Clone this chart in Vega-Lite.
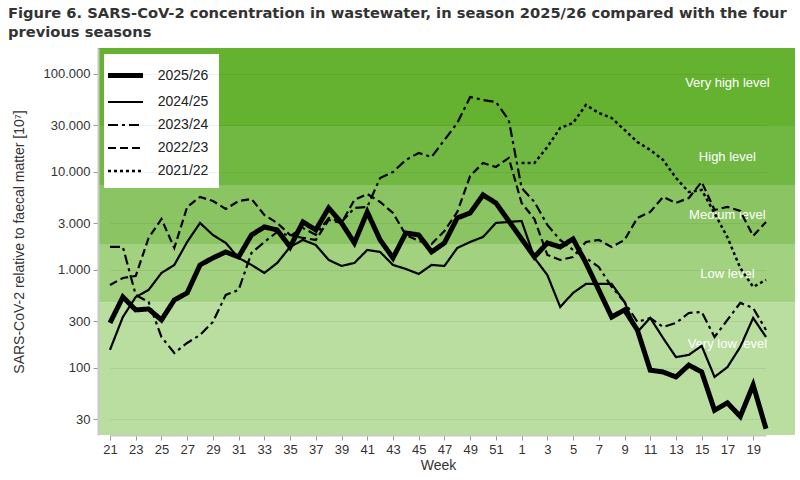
{
  "$schema": "https://vega.github.io/schema/vega-lite/v6.json",
  "width": 697,
  "height": 387,
  "autosize": {"type": "none"},
  "padding": {"left": 98, "top": 48, "right": 5, "bottom": 45},
  "background": "white",
  "title": {
    "text": ["Figure 6. SARS-CoV-2 concentration in wastewater, in season 2025/26 compared with the four", "previous seasons"],
    "anchor": "start",
    "frame": "group",
    "dx": -90,
    "offset": 8,
    "fontSize": 14.7,
    "fontWeight": "bold",
    "font": "DejaVu Sans",
    "color": "#333333",
    "lineHeight": 19
  },
  "config": {
    "view": {"stroke": null},
    "font": "Liberation Sans",
    "axis": {
      "labelFont": "Liberation Sans",
      "labelFontSize": 13,
      "labelColor": "#333333",
      "titleFont": "Liberation Sans",
      "titleFontSize": 14,
      "titleFontWeight": "normal",
      "titleColor": "#333333",
      "tickColor": "#999999",
      "domainColor": "#c8c8c8",
      "domainWidth": 2
    },
    "legend": {
      "orient": "top-left",
      "offset": 6,
      "fillColor": "white",
      "padding": 10,
      "symbolType": "M-2,0L2,0",
      "symbolSize": 306.25,
      "symbolStrokeColor": "black",
      "labelFont": "Liberation Sans",
      "labelFontSize": 14,
      "labelColor": "#222222",
      "labelOffset": 20.75,
      "rowPadding": 6
    }
  },
  "datasets": {
    "bands": [
      {"level": "Very low", "lo": 20.7, "hi": 468},
      {"level": "Low", "lo": 468, "hi": 1840},
      {"level": "Medium", "lo": 1840, "hi": 7360},
      {"level": "High", "lo": 7360, "hi": 29440},
      {"level": "Very high", "lo": 29440, "hi": 184000}
    ],
    "labels": [
      {"label": "Very high level", "value": 80900},
      {"label": "High level", "value": 14230},
      {"label": "Medium level", "value": 3640},
      {"label": "Low level", "value": 910},
      {"label": "Very low level", "value": 176}
    ],
    "series": [
      {"season": "2025/26", "week": 21, "value": 288},
      {"season": "2025/26", "week": 22, "value": 530},
      {"season": "2025/26", "week": 23, "value": 391},
      {"season": "2025/26", "week": 24, "value": 400},
      {"season": "2025/26", "week": 25, "value": 309},
      {"season": "2025/26", "week": 26, "value": 494},
      {"season": "2025/26", "week": 27, "value": 583},
      {"season": "2025/26", "week": 28, "value": 1125},
      {"season": "2025/26", "week": 29, "value": 1326},
      {"season": "2025/26", "week": 30, "value": 1527},
      {"season": "2025/26", "week": 31, "value": 1357},
      {"season": "2025/26", "week": 32, "value": 2276},
      {"season": "2025/26", "week": 33, "value": 2747},
      {"season": "2025/26", "week": 34, "value": 2560},
      {"season": "2025/26", "week": 35, "value": 1717},
      {"season": "2025/26", "week": 36, "value": 3090},
      {"season": "2025/26", "week": 37, "value": 2560},
      {"season": "2025/26", "week": 38, "value": 4294},
      {"season": "2025/26", "week": 39, "value": 3018},
      {"season": "2025/26", "week": 40, "value": 1886},
      {"season": "2025/26", "week": 41, "value": 3906},
      {"season": "2025/26", "week": 42, "value": 2024},
      {"season": "2025/26", "week": 43, "value": 1326},
      {"season": "2025/26", "week": 44, "value": 2386},
      {"season": "2025/26", "week": 45, "value": 2276},
      {"season": "2025/26", "week": 46, "value": 1527},
      {"season": "2025/26", "week": 47, "value": 1886},
      {"season": "2025/26", "week": 48, "value": 3393},
      {"season": "2025/26", "week": 49, "value": 3815},
      {"season": "2025/26", "week": 50, "value": 5826},
      {"season": "2025/26", "week": 51, "value": 4828},
      {"season": "2025/26", "week": 52, "value": 3162},
      {"season": "2025/26", "week": 1, "value": 2072},
      {"season": "2025/26", "week": 2, "value": 1357},
      {"season": "2025/26", "week": 3, "value": 1886},
      {"season": "2025/26", "week": 4, "value": 1717},
      {"season": "2025/26", "week": 5, "value": 2072},
      {"season": "2025/26", "week": 6, "value": 1179},
      {"season": "2025/26", "week": 7, "value": 625},
      {"season": "2025/26", "week": 8, "value": 331},
      {"season": "2025/26", "week": 9, "value": 391},
      {"season": "2025/26", "week": 10, "value": 244},
      {"season": "2025/26", "week": 11, "value": 95},
      {"season": "2025/26", "week": 12, "value": 91},
      {"season": "2025/26", "week": 13, "value": 81},
      {"season": "2025/26", "week": 14, "value": 107},
      {"season": "2025/26", "week": 15, "value": 91},
      {"season": "2025/26", "week": 16, "value": 37},
      {"season": "2025/26", "week": 17, "value": 44},
      {"season": "2025/26", "week": 18, "value": 32},
      {"season": "2025/26", "week": 19, "value": 67},
      {"season": "2025/26", "week": 20, "value": 24},

      {"season": "2024/25", "week": 21, "value": 153},
      {"season": "2024/25", "week": 22, "value": 331},
      {"season": "2024/25", "week": 23, "value": 530},
      {"season": "2024/25", "week": 24, "value": 625},
      {"season": "2024/25", "week": 25, "value": 932},
      {"season": "2024/25", "week": 26, "value": 1125},
      {"season": "2024/25", "week": 27, "value": 1931},
      {"season": "2024/25", "week": 28, "value": 3018},
      {"season": "2024/25", "week": 29, "value": 2276},
      {"season": "2024/25", "week": 30, "value": 1886},
      {"season": "2024/25", "week": 31, "value": 1326},
      {"season": "2024/25", "week": 32, "value": 1125},
      {"season": "2024/25", "week": 33, "value": 932},
      {"season": "2024/25", "week": 34, "value": 1179},
      {"season": "2024/25", "week": 35, "value": 1717},
      {"season": "2024/25", "week": 36, "value": 2024},
      {"season": "2024/25", "week": 37, "value": 1799},
      {"season": "2024/25", "week": 38, "value": 1265},
      {"season": "2024/25", "week": 39, "value": 1099},
      {"season": "2024/25", "week": 40, "value": 1179},
      {"season": "2024/25", "week": 41, "value": 1600},
      {"season": "2024/25", "week": 42, "value": 1527},
      {"season": "2024/25", "week": 43, "value": 1125},
      {"season": "2024/25", "week": 44, "value": 1024},
      {"season": "2024/25", "week": 45, "value": 910},
      {"season": "2024/25", "week": 46, "value": 1125},
      {"season": "2024/25", "week": 47, "value": 1099},
      {"season": "2024/25", "week": 48, "value": 1677},
      {"season": "2024/25", "week": 49, "value": 1931},
      {"season": "2024/25", "week": 50, "value": 2171},
      {"season": "2024/25", "week": 51, "value": 3018},
      {"season": "2024/25", "week": 52, "value": 3090},
      {"season": "2024/25", "week": 1, "value": 3162},
      {"season": "2024/25", "week": 2, "value": 1326},
      {"season": "2024/25", "week": 3, "value": 889},
      {"season": "2024/25", "week": 4, "value": 419},
      {"season": "2024/25", "week": 5, "value": 583},
      {"season": "2024/25", "week": 6, "value": 720},
      {"season": "2024/25", "week": 7, "value": 720},
      {"season": "2024/25", "week": 8, "value": 720},
      {"season": "2024/25", "week": 9, "value": 472},
      {"season": "2024/25", "week": 10, "value": 233},
      {"season": "2024/25", "week": 11, "value": 324},
      {"season": "2024/25", "week": 12, "value": 202},
      {"season": "2024/25", "week": 13, "value": 129},
      {"season": "2024/25", "week": 14, "value": 136},
      {"season": "2024/25", "week": 15, "value": 168},
      {"season": "2024/25", "week": 16, "value": 81},
      {"season": "2024/25", "week": 17, "value": 102},
      {"season": "2024/25", "week": 18, "value": 164},
      {"season": "2024/25", "week": 19, "value": 324},
      {"season": "2024/25", "week": 20, "value": 207},

      {"season": "2023/24", "week": 21, "value": 1717},
      {"season": "2023/24", "week": 22, "value": 1717},
      {"season": "2023/24", "week": 23, "value": 556},
      {"season": "2023/24", "week": 24, "value": 472},
      {"season": "2023/24", "week": 25, "value": 207},
      {"season": "2023/24", "week": 26, "value": 142},
      {"season": "2023/24", "week": 27, "value": 180},
      {"season": "2023/24", "week": 28, "value": 217},
      {"season": "2023/24", "week": 29, "value": 295},
      {"season": "2023/24", "week": 30, "value": 556},
      {"season": "2023/24", "week": 31, "value": 625},
      {"season": "2023/24", "week": 32, "value": 1491},
      {"season": "2023/24", "week": 33, "value": 1931},
      {"season": "2023/24", "week": 34, "value": 2442},
      {"season": "2023/24", "week": 35, "value": 2223},
      {"season": "2023/24", "week": 36, "value": 2683},
      {"season": "2023/24", "week": 37, "value": 2276},
      {"season": "2023/24", "week": 38, "value": 3393},
      {"season": "2023/24", "week": 39, "value": 3090},
      {"season": "2023/24", "week": 40, "value": 4294},
      {"season": "2023/24", "week": 41, "value": 4394},
      {"season": "2023/24", "week": 42, "value": 8686},
      {"season": "2023/24", "week": 43, "value": 10000},
      {"season": "2023/24", "week": 44, "value": 13260},
      {"season": "2023/24", "week": 45, "value": 15630},
      {"season": "2023/24", "week": 46, "value": 14230},
      {"season": "2023/24", "week": 47, "value": 21210},
      {"season": "2023/24", "week": 48, "value": 31620},
      {"season": "2023/24", "week": 49, "value": 58260},
      {"season": "2023/24", "week": 50, "value": 54280},
      {"season": "2023/24", "week": 51, "value": 51800},
      {"season": "2023/24", "week": 52, "value": 33930},
      {"season": "2023/24", "week": 1, "value": 6865},
      {"season": "2023/24", "week": 2, "value": 4940},
      {"season": "2023/24", "week": 3, "value": 2879},
      {"season": "2023/24", "week": 4, "value": 2024},
      {"season": "2023/24", "week": 5, "value": 1600},
      {"season": "2023/24", "week": 6, "value": 1326},
      {"season": "2023/24", "week": 7, "value": 1073},
      {"season": "2023/24", "week": 8, "value": 671},
      {"season": "2023/24", "week": 9, "value": 472},
      {"season": "2023/24", "week": 10, "value": 295},
      {"season": "2023/24", "week": 11, "value": 324},
      {"season": "2023/24", "week": 12, "value": 262},
      {"season": "2023/24", "week": 13, "value": 288},
      {"season": "2023/24", "week": 14, "value": 364},
      {"season": "2023/24", "week": 15, "value": 373},
      {"season": "2023/24", "week": 16, "value": 207},
      {"season": "2023/24", "week": 17, "value": 309},
      {"season": "2023/24", "week": 18, "value": 461},
      {"season": "2023/24", "week": 19, "value": 409},
      {"season": "2023/24", "week": 20, "value": 244},

      {"season": "2022/23", "week": 21, "value": 703},
      {"season": "2022/23", "week": 22, "value": 829},
      {"season": "2022/23", "week": 23, "value": 869},
      {"season": "2022/23", "week": 24, "value": 2121},
      {"season": "2022/23", "week": 25, "value": 3314},
      {"season": "2022/23", "week": 26, "value": 1677},
      {"season": "2022/23", "week": 27, "value": 4394},
      {"season": "2022/23", "week": 28, "value": 5557},
      {"season": "2022/23", "week": 29, "value": 5060},
      {"season": "2022/23", "week": 30, "value": 4192},
      {"season": "2022/23", "week": 31, "value": 5060},
      {"season": "2022/23", "week": 32, "value": 5302},
      {"season": "2022/23", "week": 33, "value": 3640},
      {"season": "2022/23", "week": 34, "value": 3018},
      {"season": "2022/23", "week": 35, "value": 2276},
      {"season": "2022/23", "week": 36, "value": 2121},
      {"season": "2022/23", "week": 37, "value": 2024},
      {"season": "2022/23", "week": 38, "value": 3237},
      {"season": "2022/23", "week": 39, "value": 3018},
      {"season": "2022/23", "week": 40, "value": 5180},
      {"season": "2022/23", "week": 41, "value": 5964},
      {"season": "2022/23", "week": 42, "value": 4940},
      {"season": "2022/23", "week": 43, "value": 3815},
      {"season": "2022/23", "week": 44, "value": 2276},
      {"season": "2022/23", "week": 45, "value": 1977},
      {"season": "2022/23", "week": 46, "value": 1842},
      {"season": "2022/23", "week": 47, "value": 2500},
      {"season": "2022/23", "week": 48, "value": 3906},
      {"season": "2022/23", "week": 49, "value": 9103},
      {"season": "2022/23", "week": 50, "value": 12350},
      {"season": "2022/23", "week": 51, "value": 11250},
      {"season": "2022/23", "week": 52, "value": 13900},
      {"season": "2022/23", "week": 1, "value": 4828},
      {"season": "2022/23", "week": 2, "value": 3300},
      {"season": "2022/23", "week": 3, "value": 1423},
      {"season": "2022/23", "week": 4, "value": 1265},
      {"season": "2022/23", "week": 5, "value": 1357},
      {"season": "2022/23", "week": 6, "value": 1931},
      {"season": "2022/23", "week": 7, "value": 2024},
      {"season": "2022/23", "week": 8, "value": 1717},
      {"season": "2022/23", "week": 9, "value": 2024},
      {"season": "2022/23", "week": 10, "value": 3393},
      {"season": "2022/23", "week": 11, "value": 3906},
      {"season": "2022/23", "week": 12, "value": 5557},
      {"season": "2022/23", "week": 13, "value": 4828},
      {"season": "2022/23", "week": 14, "value": 5428},
      {"season": "2022/23", "week": 15, "value": 7907},
      {"season": "2022/23", "week": 16, "value": 4095},
      {"season": "2022/23", "week": 17, "value": 4394},
      {"season": "2022/23", "week": 18, "value": 4000},
      {"season": "2022/23", "week": 19, "value": 2223},
      {"season": "2022/23", "week": 20, "value": 3090},

      {"season": "2021/22", "week": 1, "value": 12350},
      {"season": "2021/22", "week": 2, "value": 12350},
      {"season": "2021/22", "week": 3, "value": 17990},
      {"season": "2021/22", "week": 4, "value": 28120},
      {"season": "2021/22", "week": 5, "value": 31620},
      {"season": "2021/22", "week": 6, "value": 48280},
      {"season": "2021/22", "week": 7, "value": 39990},
      {"season": "2021/22", "week": 8, "value": 35560},
      {"season": "2021/22", "week": 9, "value": 26830},
      {"season": "2021/22", "week": 10, "value": 20240},
      {"season": "2021/22", "week": 11, "value": 16760},
      {"season": "2021/22", "week": 12, "value": 13260},
      {"season": "2021/22", "week": 13, "value": 8686},
      {"season": "2021/22", "week": 14, "value": 6250},
      {"season": "2021/22", "week": 15, "value": 6550},
      {"season": "2021/22", "week": 16, "value": 3800},
      {"season": "2021/22", "week": 17, "value": 2150},
      {"season": "2021/22", "week": 18, "value": 1048},
      {"season": "2021/22", "week": 19, "value": 671},
      {"season": "2021/22", "week": 20, "value": 791}
    ]
  },
  "encoding": {
    "x": {
      "field": "week",
      "type": "ordinal",
      "scale": {
        "type": "point",
        "domain": [21,22,23,24,25,26,27,28,29,30,31,32,33,34,35,36,37,38,39,40,41,42,43,44,45,46,47,48,49,50,51,52,1,2,3,4,5,6,7,8,9,10,11,12,13,14,15,16,17,18,19,20],
        "padding": 0,
        "range": [12, 668]
      },
      "axis": {
        "title": "Week",
        "values": [21,23,25,27,29,31,33,35,37,39,41,43,45,47,49,51,1,3,5,7,9,11,13,15,17,19],
        "labelAngle": 0,
        "tickSize": 5,
        "labelPadding": 3,
        "titlePadding": 2,
        "grid": false
      }
    }
  },
  "layer": [
    {
      "data": {"name": "bands"},
      "mark": {"type": "rect"},
      "encoding": {
        "x": null,
        "y": {
          "field": "lo",
          "type": "quantitative",
          "scale": {"type": "log", "domain": [20.7, 184000], "nice": false, "zero": false},
          "axis": {
            "title": "SARS-CoV-2 relative to faecal matter [10⁷]",
            "values": [30, 100, 300, 1000, 3000, 10000, 30000, 100000],
            "labelExpr": "replace(format(datum.value, ','), ',', '.')",
            "tickSize": 5,
            "labelPadding": 3,
            "titlePadding": 17,
            "grid": true,
            "gridColor": "#000000",
            "gridOpacity": 0.06,
            "zindex": 1
          }
        },
        "y2": {"field": "hi"},
        "color": {
          "field": "level",
          "type": "nominal",
          "scale": {
            "domain": ["Very low", "Low", "Medium", "High", "Very high"],
            "range": ["#b9dea0", "#a2d180", "#8bc463", "#71b843", "#64b22f"]
          },
          "legend": null
        }
      }
    },
    {
      "data": {"name": "labels"},
      "mark": {"type": "text", "color": "white", "fontSize": 13, "font": "Liberation Sans", "align": "center", "baseline": "middle"},
      "encoding": {
        "x": {"datum": 17, "type": "ordinal"},
        "y": {"field": "value", "type": "quantitative"},
        "text": {"field": "label"}
      }
    },
    {
      "data": {"name": "series"},
      "mark": {"type": "line", "color": "black", "strokeCap": "butt", "clip": true},
      "encoding": {
        "y": {"field": "value", "type": "quantitative"},
        "order": {"value": null},
        "strokeDash": {
          "field": "season",
          "type": "nominal",
          "scale": {
            "domain": ["2025/26", "2024/25", "2023/24", "2022/23", "2021/22"],
            "range": [[1, 0], [1, 0], [10, 4, 3, 4], [8, 4], [3, 3]]
          },
          "legend": {"title": null}
        },
        "strokeWidth": {
          "field": "season",
          "type": "nominal",
          "scale": {
            "type": "ordinal",
            "domain": ["2025/26", "2024/25", "2023/24", "2022/23", "2021/22"],
            "range": [5, 2.2, 2.2, 2.2, 2.5]
          },
          "legend": {"title": null}
        }
      }
    }
  ]
}
